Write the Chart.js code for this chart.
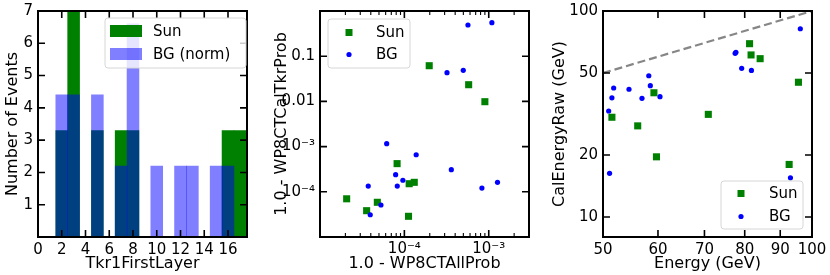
<!DOCTYPE html>
<html>
<head>
<meta charset="utf-8">
<script src="https://cdn.jsdelivr.net/npm/chart.js@4.4.1/dist/chart.umd.min.js"></script>
<style>
  html, body { margin: 0; padding: 0; background: #fff; }
  #wrap { position: relative; width: 830px; height: 275px; }
  canvas { position: absolute; top: 0; }
</style>
</head>
<body>
<div id="wrap">
  <canvas id="c1" width="270" height="275" style="left:0px"></canvas>
  <canvas id="c2" width="275" height="275" style="left:270px"></canvas>
  <canvas id="c3" width="285" height="275" style="left:545px"></canvas>
</div>
<script>
// panel 1 - histogram of Tkr1FirstLayer
const layers = [2, 3, 4, 5, 6, 7, 8, 9, 10, 11, 12, 13, 14, 15, 16, 17];
const sunLayerCounts = [3.3, 7, 0, 3.3, 0, 3.3, 3.3, 0, 0, 0, 0, 0, 0, 0, 3.3, 3.3];
const bgLayerCounts = [4.4, 4.4, 0, 4.4, 0, 2.2, 6.6, 0, 2.2, 0, 2.2, 2.2, 0, 2.2, 2.2, 0];
const layerTicks = [0, 2, 4, 6, 8, 10, 12, 14, 16];
const countTicks = [1, 2, 3, 4, 5, 6, 7];

// panel 2 - probabilities
const sunAllProb = [1.97e-4, 5.78e-4, 9.0e-4, 8.2e-5, 1.14e-4, 1.31e-4, 2.07e-5, 3.57e-5, 4.78e-5, 1.12e-4];
const sunTkrProb = [0.0616, 0.0234, 0.00985, 4.2e-4, 1.51e-4, 1.62e-4, 7.0e-5, 3.82e-5, 5.86e-5, 2.87e-5];
const bgAllProb = [5.67e-4, 1.09e-3, 3.2e-4, 4.99e-4, 6.17e-5, 1.38e-4, 3.6e-4, 7.88e-5, 9.6e-5, 8.24e-5, 3.73e-5, 1.27e-3, 8.3e-4, 5.28e-5, 3.94e-5];
const bgTkrProb = [0.49, 0.551, 0.0431, 0.0488, 1.16e-3, 6.6e-4, 3.08e-4, 2.39e-4, 1.8e-4, 1.34e-4, 1.34e-4, 1.62e-4, 1.21e-4, 5.1e-5, 3.11e-5];
const probXTicks = [1e-4, 1e-3];
const probXLabels = ['10⁻⁴', '10⁻³'];
const probXMinor = [2e-5, 3e-5, 4e-5, 5e-5, 6e-5, 7e-5, 8e-5, 9e-5,
                    2e-4, 3e-4, 4e-4, 5e-4, 6e-4, 7e-4, 8e-4, 9e-4, 2e-3];
const probYTicks = [1e-4, 1e-3, 1e-2, 1e-1];
const probYLabels = ['10⁻⁴', '10⁻³', '0.01', '0.1'];

// panel 3 - energies
const sunEnergy = [51.5, 56.1, 59.2, 59.7, 70.9, 81.3, 81.7, 84.2, 92.7, 95.6];
const sunCalRaw = [30.5, 27.7, 40.1, 19.6, 31.5, 69.4, 61.2, 58.7, 18.0, 45.1];
const bgEnergy = [96.2, 77.7, 77.5, 79.2, 81.8, 93.1, 58.2, 58.5, 60.4, 51.8, 54.5, 51.5, 56.9, 50.95, 51.1];
const bgCalRaw = [82.0, 63.0, 62.3, 52.7, 51.5, 15.5, 48.5, 43.4, 38.4, 42.3, 41.7, 37.9, 37.7, 32.7, 16.3];
const energyTicks = [50, 60, 70, 80, 90, 100];
const calTicks = [10, 20, 50, 100];
const unityLine = [50, 100];

Chart.defaults.font.family = '"DejaVu Sans", sans-serif';
Chart.defaults.font.size = 15;
Chart.defaults.color = '#000';

const SUN = '#008000';
const BG = '#0000ff';
const titleFont = {size: 16};

const pts = (xs, ys) => xs.map((v, i) => ({x: v, y: ys[i]}));

// fix the size of an axis box so the plot area lands where it should
const fitW = w => s => { s.width = w; s.paddingTop = 0; s.paddingBottom = 0; s.paddingLeft = 0; s.paddingRight = 0; };
const fitH = h => s => { s.height = h; s.paddingTop = 0; s.paddingBottom = 0; s.paddingLeft = 0; s.paddingRight = 0; };
const setTicks = vals => s => { s.ticks = vals.map(v => ({value: v})); };

// frame with inward ticks on all four sides, plus an in-plot legend
function framePlugin(minorX, legend) {
  return {
    id: 'frame',
    afterDatasetsDraw(chart) {
      const {ctx, chartArea: a, scales} = chart;
      const xs = scales.x, ys = scales.y;
      ctx.save();
      ctx.strokeStyle = '#000';
      const markX = (vals, len) => {
        vals.forEach(v => {
          const p = xs.getPixelForValue(v);
          ctx.moveTo(p, a.bottom); ctx.lineTo(p, a.bottom - len);
          ctx.moveTo(p, a.top); ctx.lineTo(p, a.top + len);
        });
      };
      const markY = (vals, len) => {
        vals.forEach(v => {
          const p = ys.getPixelForValue(v);
          ctx.moveTo(a.left, p); ctx.lineTo(a.left + len, p);
          ctx.moveTo(a.right, p); ctx.lineTo(a.right - len, p);
        });
      };
      ctx.lineWidth = 1.6;
      ctx.beginPath();
      markX(xs.ticks.map(t => t.value), 7);
      markY(ys.ticks.map(t => t.value), 7);
      ctx.stroke();
      if (minorX) {
        ctx.lineWidth = 1.1;
        ctx.beginPath();
        markX(minorX, 4);
        ctx.stroke();
      }
      ctx.lineWidth = 2;
      ctx.strokeRect(a.left, a.top, a.right - a.left, a.bottom - a.top);

      // legend
      const [bx, by, bw, bh] = legend.box;
      ctx.beginPath();
      if (ctx.roundRect) ctx.roundRect(bx, by, bw, bh, 3); else ctx.rect(bx, by, bw, bh);
      ctx.fillStyle = 'rgba(255,255,255,0.8)';
      ctx.fill();
      ctx.lineWidth = 1;
      ctx.strokeStyle = '#d6d6d6';
      ctx.stroke();
      ctx.font = '15px "DejaVu Sans"';
      ctx.textBaseline = 'middle';
      ctx.textAlign = 'left';
      legend.items.forEach((it, i) => {
        const cy = by + legend.rows[i];
        const mx = bx + legend.markX;
        ctx.fillStyle = it.color;
        if (it.kind === 'patch') {
          ctx.fillRect(bx + 5, cy - 6, 32, 12);
        } else if (it.kind === 'square') {
          ctx.fillRect(mx - 3.5, cy - 3.5, 7, 7);
        } else {
          ctx.beginPath(); ctx.arc(mx, cy, 2.6, 0, Math.PI * 2); ctx.fill();
        }
        ctx.fillStyle = '#000';
        ctx.fillText(it.label, bx + legend.textX, cy + 1);
      });
      ctx.restore();
    }
  };
}

const common = {
  responsive: false,
  animation: false,
  events: [],
  plugins: {legend: {display: false}, tooltip: {enabled: false}}
};

// panel 1
new Chart(document.getElementById('c1'), {
  type: 'bar',
  data: {
    datasets: [
      {label: 'Sun', data: pts(layers, sunLayerCounts), backgroundColor: SUN, order: 2,
       barPercentage: 1, categoryPercentage: 1, grouped: false, borderWidth: 0},
      {label: 'BG (norm)', data: pts(layers, bgLayerCounts), backgroundColor: 'rgba(0,0,255,0.5)', order: 1,
       barPercentage: 1, categoryPercentage: 1, grouped: false, borderWidth: 0}
    ]
  },
  options: {
    ...common,
    layout: {padding: {top: 11, right: 23, bottom: 0, left: 0}},
    scales: {
      x: {type: 'linear', min: 0, max: 17.6, offset: false,
          grid: {display: false, drawTicks: false}, border: {display: false},
          afterBuildTicks: setTicks(layerTicks), afterFit: fitH(38),
          ticks: {autoSkip: false, maxRotation: 0, padding: 4, callback: v => String(v)},
          title: {display: true, text: 'Tkr1FirstLayer', font: titleFont, padding: {top: 0, bottom: 2}}},
      y: {type: 'linear', min: 0, max: 7,
          grid: {display: false, drawTicks: false}, border: {display: false},
          afterBuildTicks: setTicks(countTicks), afterFit: fitW(38),
          ticks: {padding: 5, callback: v => String(v)},
          title: {display: true, text: 'Number of Events', font: titleFont, padding: {top: 3, bottom: 0}}}
    }
  },
  plugins: [framePlugin(null, {
    box: [105, 18, 141, 50], rows: [13, 36], markX: 21, textX: 48,
    items: [{kind: 'patch', color: SUN, label: 'Sun'},
            {kind: 'patch', color: 'rgba(0,0,255,0.5)', label: 'BG (norm)'}]
  })]
});

// panel 2
new Chart(document.getElementById('c2'), {
  type: 'scatter',
  data: {
    datasets: [
      {label: 'Sun', data: pts(sunAllProb, sunTkrProb), pointStyle: 'rect', pointRadius: 5,
       backgroundColor: SUN, borderColor: SUN, borderWidth: 0, order: 2},
      {label: 'BG', data: pts(bgAllProb, bgTkrProb), pointStyle: 'circle', pointRadius: 2.6,
       backgroundColor: BG, borderColor: BG, borderWidth: 0, order: 1}
    ]
  },
  options: {
    ...common,
    layout: {padding: {top: 11, right: 16, bottom: 0, left: 0}},
    scales: {
      x: {type: 'logarithmic', min: 1e-5, max: 3e-3,
          grid: {display: false, drawTicks: false}, border: {display: false},
          afterBuildTicks: setTicks(probXTicks), afterFit: fitH(38),
          ticks: {autoSkip: false, maxRotation: 0, padding: 3, callback: (v, i) => probXLabels[i]},
          title: {display: true, text: '1.0 - WP8CTAllProb', font: titleFont, padding: {top: 0, bottom: 2}}},
      y: {type: 'logarithmic', min: 1e-5, max: 1,
          grid: {display: false, drawTicks: false}, border: {display: false},
          afterBuildTicks: setTicks(probYTicks), afterFit: fitW(50),
          ticks: {padding: 5, callback: (v, i) => probYLabels[i]},
          title: {display: true, text: '1.0 - WP8CTCalTkrProb', font: titleFont, padding: {top: 2, bottom: 0}}}
    }
  },
  plugins: [framePlugin(probXMinor, {
    box: [58, 19, 82, 49], rows: [13.5, 35.5], markX: 21, textX: 48,
    items: [{kind: 'square', color: SUN, label: 'Sun'},
            {kind: 'dot', color: BG, label: 'BG'}]
  })]
});

// panel 3
new Chart(document.getElementById('c3'), {
  type: 'scatter',
  data: {
    datasets: [
      {label: 'Sun', data: pts(sunEnergy, sunCalRaw), pointStyle: 'rect', pointRadius: 5,
       backgroundColor: SUN, borderColor: SUN, borderWidth: 0, order: 2},
      {label: 'BG', data: pts(bgEnergy, bgCalRaw), pointStyle: 'circle', pointRadius: 2.6,
       backgroundColor: BG, borderColor: BG, borderWidth: 0, order: 1},
      {type: 'line', label: 'y = x', data: pts(unityLine, unityLine), showLine: true,
       borderColor: 'rgba(128,128,128,0.95)', borderWidth: 2.2, borderDash: [8, 4],
       pointRadius: 0, fill: false, order: 0}
    ]
  },
  options: {
    ...common,
    layout: {padding: {top: 11, right: 18, bottom: 0, left: 0}},
    scales: {
      x: {type: 'logarithmic', min: 50, max: 100,
          grid: {display: false, drawTicks: false}, border: {display: false},
          afterBuildTicks: setTicks(energyTicks), afterFit: fitH(38),
          ticks: {autoSkip: false, maxRotation: 0, padding: 4, callback: (v, i) => String(energyTicks[i])},
          title: {display: true, text: 'Energy (GeV)', font: titleFont, padding: {top: 0, bottom: 2}}},
      y: {type: 'logarithmic', min: 8, max: 100,
          grid: {display: false, drawTicks: false}, border: {display: false},
          afterBuildTicks: setTicks(calTicks), afterFit: fitW(58),
          ticks: {padding: 5, callback: (v, i) => String(calTicks[i])},
          title: {display: true, text: 'CalEnergyRaw (GeV)', font: titleFont, padding: {top: 5, bottom: 0}}}
    }
  },
  plugins: [framePlugin(null, {
    box: [176, 181, 82, 48], rows: [12.5, 35.5], markX: 20, textX: 48,
    items: [{kind: 'square', color: SUN, label: 'Sun'},
            {kind: 'dot', color: BG, label: 'BG'}]
  })]
});
</script>
</body>
</html>
